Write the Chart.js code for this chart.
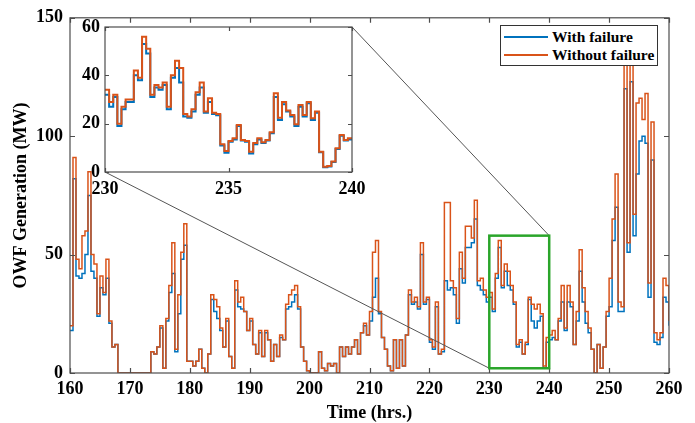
<!DOCTYPE html>
<html>
<head>
<meta charset="utf-8">
<script src="https://cdn.jsdelivr.net/npm/chart.js@4.4.0/dist/chart.umd.min.js"></script>
<style>
  body { margin: 0; background: #fff; }
  #wrap { position: relative; width: 695px; height: 423px; overflow: hidden; }
  #wrap canvas { position: absolute; left: 0; top: 0; }
  #inset { pointer-events: none; }
  .legend { position: absolute; left: 500px; top: 25px; width: 156px; height: 39px; border: 1.5px solid #333; background: #fff;
            font: bold 15.5px 'Liberation Serif', 'Times New Roman', serif; color: #000; }
  .legend .row { position: absolute; left: 0; height: 18px; display: flex; align-items: center; white-space: nowrap; }
  .legend .swatch { width: 44px; height: 2px; margin: 0 4px 0 3px; }
</style>
</head>
<body>
<div id="wrap">
  <canvas id="main" width="695" height="423"></canvas>
  <canvas id="inset" width="695" height="423"></canvas>
  <div class="legend">
    <div class="row" style="top:2px"><span class="swatch" style="background:#0072BD"></span>With failure</div>
    <div class="row" style="top:20px"><span class="swatch" style="background:#D95319"></span>Without failure</div>
  </div>
</div>
<script>
// main series, one value every half hour from 160 h to 260 h
const startHour = 160;
const stepHours = 0.5;

const withoutFailure = [
    20, 91, 48, 44, 58, 60, 85, 50, 46, 25,   // 160
    41, 34, 48, 22, 11, 12, 0, 0, 0, 0,       // 165
    0, 0, 0, 0, 0, 0, 0, 9, 8, 11,            // 170
    20, 2, 23, 37, 55, 10, 33, 51, 63, 5,     // 175
    5, 3, 5, 10, 2, 0, 8, 33, 31, 28,         // 180
    19, 11, 23, 7, 2, 39, 30, 32, 26, 18,     // 185
    23, 12, 8, 18, 7, 18, 14, 5, 12, 7,       // 190
    16, 14, 29, 33, 35, 37, 28, 11, 5, 1,     // 195
    0, 0, 0, 9, 2, 1, 4, 3, 4, 0,             // 200
    11, 7, 11, 8, 11, 14, 8, 17, 21, 16,      // 205
    26, 51, 56, 26, 15, 10, 3, 1, 14, 2,      // 210
    14, 3, 16, 35, 30, 32, 28, 55, 30, 32,    // 215
    14, 11, 30, 8, 10, 72, 72, 39, 36, 23,    // 220
    51, 40, 62, 62, 57, 73, 39, 40, 35, 32,   // 225
    34, 27, 42, 56, 37, 46, 43, 37, 30, 12,   // 230
    14, 8, 13, 32, 29, 27, 29, 25, 3, 15,     // 235
    16, 18, 14, 23, 37, 19, 37, 30, 12, 26,   // 240
    52, 36, 26, 19, 10, 0, 12, 2, 11, 26,     // 245
    40, 65, 84, 30, 28, 135, 55, 140, 67, 114, // 250
    116, 107, 118, 38, 106, 17, 14, 17, 40, 37, // 255
    22
];

const withFailure = [
    18, 82, 41, 40, 42, 50, 75, 43, 40, 24,
    36, 33, 40, 21, 11, 12, 0, 0, 0, 0,
    0, 0, 0, 0, 0, 0, 0, 9, 8, 11,
    19, 2, 22, 34, 42, 9, 25, 48, 54, 5,
    5, 3, 5, 10, 2, 0, 8, 31, 26, 23,
    18, 11, 22, 7, 2, 35, 28, 27, 26, 18,
    22, 12, 8, 17, 7, 17, 14, 5, 12, 7,
    15, 14, 27, 28, 30, 33, 27, 11, 5, 1,
    0, 0, 0, 9, 2, 1, 4, 3, 4, 0,
    11, 7, 11, 8, 11, 14, 8, 17, 20, 16,
    22, 32, 40, 25, 15, 10, 3, 1, 14, 2,
    14, 3, 16, 33, 29, 30, 27, 50, 29, 31,
    13, 10, 28, 8, 9, 39, 35, 36, 33, 21,
    44, 38, 53, 53, 55, 65, 37, 35, 33, 30,
    32, 26, 40, 53, 36, 43, 37, 35, 29, 11,
    13, 8, 12, 31, 22, 19, 22, 24, 2, 13,
    14, 15, 14, 22, 30, 18, 30, 28, 12, 22,
    43, 30, 21, 17, 10, 0, 12, 2, 11, 24,
    28, 56, 70, 26, 26, 120, 51, 123, 58, 84,
    98, 100, 97, 32, 90, 13, 12, 15, 32, 30,
    20
];

// zoomed detail, 10-minute steps from 230 h to 240 h
const insetStart = 230;
const insetStep = 1 / 6;

const insetWithout = [
    34, 29, 32, 20, 27, 30, 30, 42, 39, 56,
    51, 32, 36, 35, 37, 27, 40, 46, 43, 24,
    23, 26, 33, 37, 25, 30.5, 24.5, 24, 11.5, 8.7,
    12.8, 14, 19.4, 13.2, 12.8, 8.4, 12, 14, 12.3, 13.2,
    16.4, 32.6, 22.5, 29, 25.5, 23.6, 19.8, 27.7, 23.6, 29,
    22.2, 25, 8.4, 2.2, 2.5, 4.3, 9.8, 15.3, 13.2, 14,
    14
];

const insetWith = [
    32, 27, 31, 19, 26, 29, 29, 40, 38, 53,
    49, 31, 35, 34, 36, 26, 39, 43, 37, 23,
    22.5, 25, 32, 35, 24.5, 29, 24, 23.5, 11, 8,
    12.5, 13.5, 19, 13, 12.5, 7.7, 11.5, 13.5, 12, 13,
    16, 31, 21.5, 28, 25, 23, 19, 27, 23, 28.5,
    21.5, 24.5, 8.2, 2, 2.3, 4.1, 9.5, 15, 13, 13.5,
    13.5
];

const mainXTicks = [160, 170, 180, 190, 200, 210, 220, 230, 240, 250, 260];
const mainYTicks = [0, 50, 100, 150];
const insetXTicks = [230, 235, 240];
const insetYTicks = [0, 20, 40, 60];

// region shown in the inset (hours, MW)
const zoomRegion = { x0: 230, x1: 240, y0: 2, y1: 58 };

// page layout
const MAIN = { left: 70, top: 13, right: 669, bottom: 373 };
const INSET = { left: 105, top: 27, right: 352, bottom: 172 };
const W = 695, H = 423;

const BLUE = '#0072BD';
const ORANGE = '#D95319';
const FONT = "'Liberation Serif', 'Times New Roman', serif";

function toPoints(values, start, step) {
    return values.map((v, i) => ({ x: start + i * step, y: v }));
}

// MATLAB-style box with inward tick marks
const boxTicks = {
    id: 'boxTicks',
    beforeDatasetsDraw(chart, args, opts) {
        if (!opts.fill) return;
        const a = chart.chartArea;
        chart.ctx.save();
        chart.ctx.fillStyle = opts.fill;
        chart.ctx.fillRect(a.left, a.top, a.right - a.left, a.bottom - a.top);
        chart.ctx.restore();
    },
    afterDatasetsDraw(chart, args, opts) {
        const { ctx, chartArea: a, scales: { x, y } } = chart;
        const L = opts.len;
        ctx.save();
        ctx.strokeStyle = opts.color;
        ctx.lineWidth = opts.width;
        ctx.beginPath();
        x.ticks.forEach(t => {
            const px = Math.round(x.getPixelForValue(t.value)) + 0.5;
            ctx.moveTo(px, a.bottom); ctx.lineTo(px, a.bottom - L);
            ctx.moveTo(px, a.top); ctx.lineTo(px, a.top + L);
        });
        y.ticks.forEach(t => {
            const py = Math.round(y.getPixelForValue(t.value)) + 0.5;
            ctx.moveTo(a.left, py); ctx.lineTo(a.left + L, py);
            ctx.moveTo(a.right, py); ctx.lineTo(a.right - L, py);
        });
        ctx.stroke();
        ctx.strokeRect(a.left, a.top, a.right - a.left, a.bottom - a.top);
        ctx.restore();
    }
};

// green rectangle on the main axes and the two lines to the inset corners
const zoomMarker = {
    id: 'zoomMarker',
    afterDatasetsDraw(chart) {
        const { ctx, scales: { x, y } } = chart;
        const l = x.getPixelForValue(zoomRegion.x0), r = x.getPixelForValue(zoomRegion.x1);
        const t = y.getPixelForValue(zoomRegion.y1), b = y.getPixelForValue(zoomRegion.y0);
        ctx.save();
        ctx.strokeStyle = '#555';
        ctx.lineWidth = 1;
        ctx.beginPath();
        ctx.moveTo(INSET.right, INSET.top); ctx.lineTo(r, t);
        ctx.moveTo(INSET.left, INSET.bottom); ctx.lineTo(l, b);
        ctx.stroke();
        ctx.strokeStyle = '#2AA52A';
        ctx.lineWidth = 2.5;
        ctx.strokeRect(l, t, r - l, b - t);
        ctx.restore();
    }
};

function fixedTicks(arr) {
    return scale => { scale.ticks = arr.map(v => ({ value: v })); };
}

function makeChart(id, cfg) {
    const tickFont = { family: FONT, size: 18, weight: 'bold' };
    return new Chart(document.getElementById(id), {
        type: 'line',
        data: {
            datasets: [
                {
                    label: 'With failure',
                    data: cfg.withData,
                    borderColor: BLUE,
                    borderWidth: cfg.lineWidth,
                    pointRadius: 0,
                    stepped: true,
                    order: 1
                },
                {
                    label: 'Without failure',
                    data: cfg.withoutData,
                    borderColor: ORANGE,
                    borderWidth: cfg.lineWidth,
                    pointRadius: 0,
                    stepped: true,
                    order: 0
                }
            ]
        },
        options: {
            responsive: false,
            animation: false,
            devicePixelRatio: 1,
            events: [],
            layout: { padding: cfg.padding },
            plugins: {
                legend: { display: false },
                tooltip: { enabled: false },
                boxTicks: { color: '#4d4d4d', width: 1.2, len: cfg.tickLen, fill: cfg.fill }
            },
            scales: {
                x: {
                    type: 'linear',
                    min: cfg.xMin, max: cfg.xMax,
                    afterBuildTicks: fixedTicks(cfg.xTicks),
                    afterFit: s => { s.height = cfg.xHeight; },
                    grid: { display: false, drawTicks: false },
                    border: { display: false },
                    ticks: { color: '#000', font: tickFont, padding: cfg.xPad, autoSkip: false, maxRotation: 0 },
                    title: cfg.xTitle ? {
                        display: true, text: cfg.xTitle, color: '#000',
                        font: { family: FONT, size: 18, weight: 'bold', lineHeight: 1.1 },
                        padding: { top: 0, bottom: 0 }
                    } : { display: false }
                },
                y: {
                    type: 'linear',
                    min: cfg.yMin, max: cfg.yMax,
                    afterBuildTicks: fixedTicks(cfg.yTicks),
                    afterFit: s => { s.width = cfg.yWidth; },
                    grid: { display: false, drawTicks: false },
                    border: { display: false },
                    ticks: { color: '#000', font: tickFont, padding: cfg.yPad, autoSkip: false },
                    title: cfg.yTitle ? {
                        display: true, text: cfg.yTitle, color: '#000',
                        font: { family: FONT, size: 18, weight: 'bold', lineHeight: 1.2 },
                        padding: { top: 11, bottom: 0 }
                    } : { display: false }
                }
            }
        },
        plugins: cfg.plugins
    });
}

makeChart('main', {
    withData: toPoints(withFailure, startHour, stepHours),
    withoutData: toPoints(withoutFailure, startHour, stepHours),
    lineWidth: 1.5,
    xMin: 160, xMax: 260, yMin: 0, yMax: 150,
    xTicks: mainXTicks, yTicks: mainYTicks,
    yWidth: MAIN.left, xHeight: H - MAIN.bottom,
    padding: { left: 0, top: MAIN.top, right: W - MAIN.right, bottom: 0 },
    xPad: 6, yPad: 7, tickLen: 5, fill: null,
    xTitle: 'Time (hrs.)', yTitle: 'OWF Generation (MW)',
    plugins: [boxTicks, zoomMarker]
});

makeChart('inset', {
    withData: toPoints(insetWith, insetStart, insetStep),
    withoutData: toPoints(insetWithout, insetStart, insetStep),
    lineWidth: 2,
    xMin: 230, xMax: 240, yMin: 0, yMax: 60,
    xTicks: insetXTicks, yTicks: insetYTicks,
    yWidth: 45, xHeight: 38,
    padding: { left: INSET.left - 45, top: INSET.top, right: W - INSET.right, bottom: H - INSET.bottom - 38 },
    xPad: 7, yPad: 5, tickLen: 4, fill: '#fff',
    xTitle: null, yTitle: null,
    plugins: [boxTicks]
});
</script>
</body>
</html>
